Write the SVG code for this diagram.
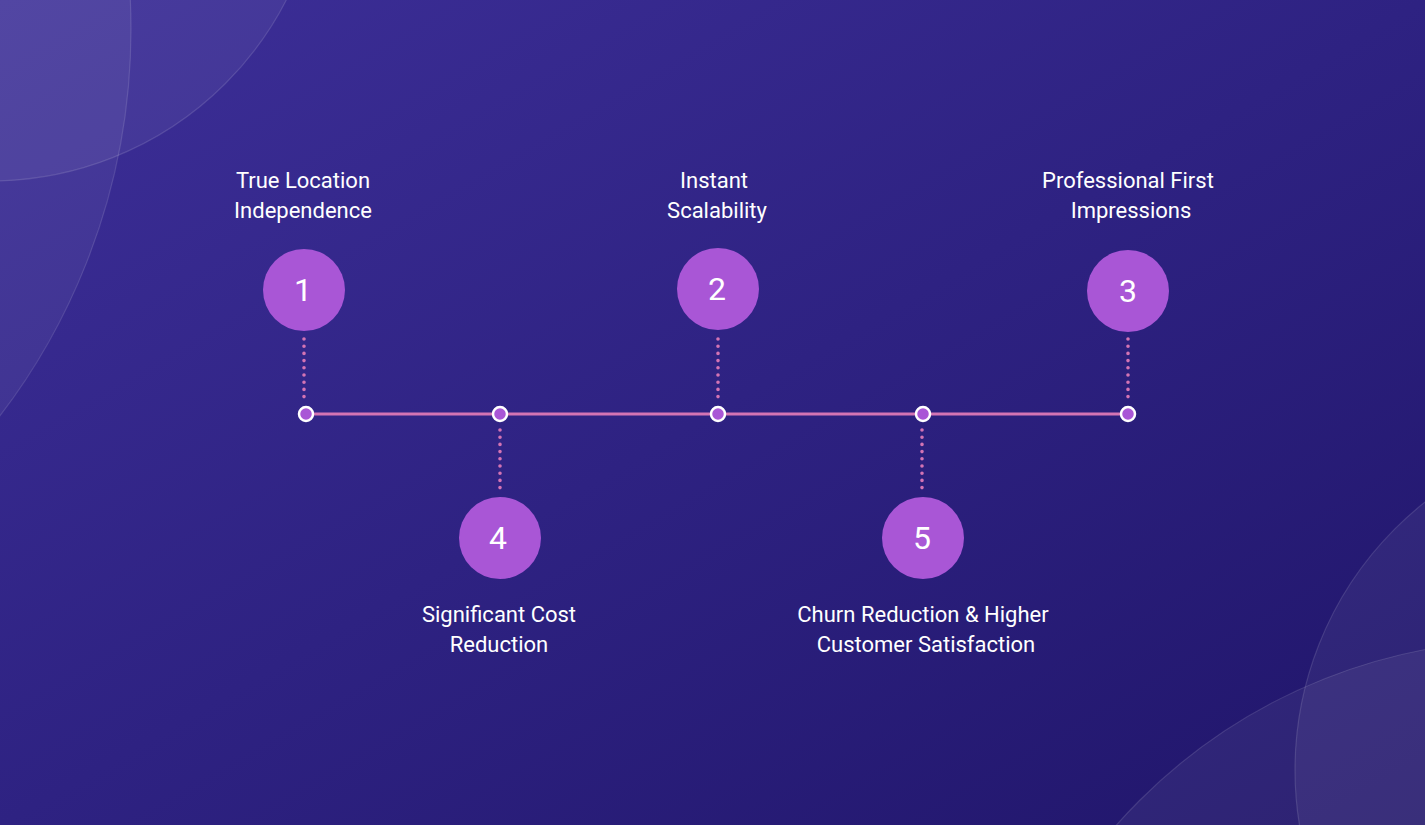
<svg xmlns="http://www.w3.org/2000/svg" width="1425" height="825" viewBox="0 0 1425 825">
<defs>
<linearGradient id="bg" x1="0" y1="0" x2="1" y2="1">
<stop offset="0" stop-color="#3d2f98"/>
<stop offset="0.5" stop-color="#2e2282"/>
<stop offset="1" stop-color="#20156a"/>
</linearGradient>
<style>
.deco{fill:#ffffff;fill-opacity:0.06;stroke:#ffffff;stroke-opacity:0.13;stroke-width:1.2}
.big{fill:#a956d6}
.num{fill:#ffffff;font-family:Roboto,"Liberation Sans",sans-serif;font-size:32px;text-anchor:middle}
.lbl{fill:#ffffff;font-family:Roboto,"Liberation Sans",sans-serif;font-size:22px;text-anchor:middle}
.dot{fill:#a956d6;stroke:#ffffff;stroke-width:2.5}
.dots{stroke:#d474b4;stroke-width:3.6;stroke-linecap:round;stroke-dasharray:0 7.2;fill:none}
.line{stroke:#d474b4;stroke-width:3;fill:none}
</style>
</defs>
<rect width="1425" height="825" fill="url(#bg)"/>
<g id="decor">
<circle class="deco" cx="-10" cy="-152" r="333"/>
<circle class="deco" cx="-505" cy="29" r="636"/>
<circle class="deco" cx="1636" cy="770" r="341"/>
<circle class="deco" cx="1527" cy="1188" r="548"/>
</g>
<g id="connectors">
<line class="line" x1="306" y1="414" x2="1128" y2="414"/>
<line class="dots" x1="304" y1="339" x2="304" y2="397"/>
<line class="dots" x1="718" y1="339" x2="718" y2="397"/>
<line class="dots" x1="1128" y1="339" x2="1128" y2="397"/>
<line class="dots" x1="500" y1="430" x2="500" y2="488"/>
<line class="dots" x1="922" y1="430" x2="922" y2="488"/>
</g>
<g id="node1">
<circle class="big" cx="304" cy="290" r="41"/>
<text class="num" x="303" y="301">1</text>
<text class="lbl" x="303" y="188">True Location</text>
<text class="lbl" x="303" y="218">Independence</text>
<circle class="dot" cx="306" cy="414" r="7"/>
</g>
<g id="node2">
<circle class="big" cx="718" cy="289" r="41"/>
<text class="num" x="717" y="300">2</text>
<text class="lbl" x="714" y="188">Instant</text>
<text class="lbl" x="717" y="218">Scalability</text>
<circle class="dot" cx="718" cy="414" r="7"/>
</g>
<g id="node3">
<circle class="big" cx="1128" cy="291" r="41"/>
<text class="num" x="1128" y="302">3</text>
<text class="lbl" x="1128" y="188">Professional First</text>
<text class="lbl" x="1131" y="218">Impressions</text>
<circle class="dot" cx="1128" cy="414" r="7"/>
</g>
<g id="node4">
<circle class="big" cx="500" cy="538" r="41"/>
<text class="num" x="498" y="549">4</text>
<text class="lbl" x="499" y="622">Significant Cost</text>
<text class="lbl" x="499" y="652">Reduction</text>
<circle class="dot" cx="500" cy="414" r="7"/>
</g>
<g id="node5">
<circle class="big" cx="923" cy="538" r="41"/>
<text class="num" x="922" y="549">5</text>
<text class="lbl" x="923" y="622">Churn Reduction &amp; Higher</text>
<text class="lbl" x="926" y="652">Customer Satisfaction</text>
<circle class="dot" cx="923" cy="414" r="7"/>
</g>
</svg>
